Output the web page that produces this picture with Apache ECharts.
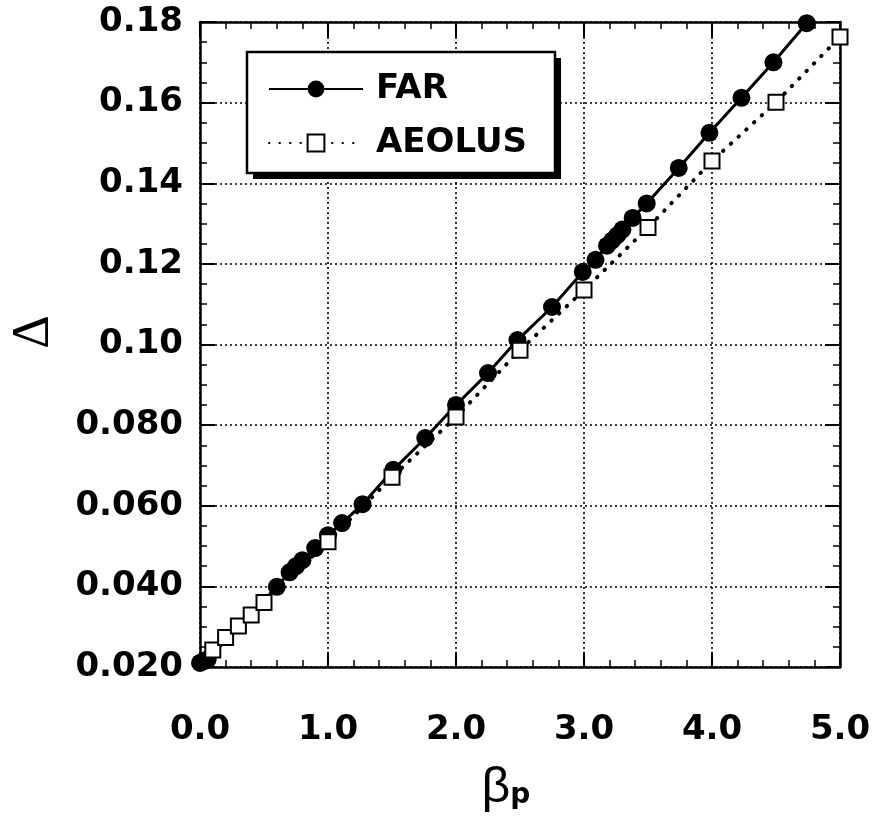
<!DOCTYPE html>
<html>
<head>
<meta charset="utf-8">
<script src="https://cdn.jsdelivr.net/npm/echarts@6/dist/echarts.min.js"></script>
<style>
html,body{margin:0;padding:0;background:#fff;}
#chart{width:879px;height:820px;}
</style>
</head>
<body>
<div id="chart"></div>
<script>
// ---- data ----
var farX = [0, 0.02, 0.04, 0.06, 0.6, 0.7, 0.75, 0.8, 0.9, 1.0, 1.11, 1.27, 1.51, 1.76, 2.0, 2.25, 2.48, 2.75, 2.99, 3.09, 3.18, 3.22, 3.26, 3.3, 3.38, 3.49, 3.74, 3.98, 4.23, 4.48, 4.74];
var farY = [0.0210, 0.0213, 0.0216, 0.0219, 0.0399, 0.0435, 0.0450, 0.0465, 0.0495, 0.0527, 0.0557, 0.0604, 0.0689, 0.0768, 0.0850, 0.0929, 0.1011, 0.1093, 0.1180, 0.1210, 0.1245, 0.1258, 0.1271, 0.1285, 0.1314, 0.1350, 0.1438, 0.1525, 0.1612, 0.1700, 0.1797];
var aeolusX = [0.1, 0.2, 0.3, 0.4, 0.5, 1.0, 1.5, 2.0, 2.5, 3.0, 3.5, 4.0, 4.5, 5.0];
var aeolusY = [0.0242, 0.0273, 0.0302, 0.0329, 0.0360, 0.0511, 0.0671, 0.0820, 0.0986, 0.1135, 0.1290, 0.1455, 0.1601, 0.1763];
var seriesNames = ['FAR', 'AEOLUS'];
var xTickLabels = ['0.0', '1.0', '2.0', '3.0', '4.0', '5.0'];
var yTickLabels = ['0.020', '0.040', '0.060', '0.080', '0.10', '0.12', '0.14', '0.16', '0.18'];
var xName = 'β';
var xSub = 'p';
var yName = 'Δ';

function pairs(xs, ys) { return xs.map(function (x, i) { return [x, ys[i]]; }); }

var chart = echarts.init(document.getElementById('chart'), null, {renderer: 'canvas'});
var labelFont = {fontFamily: 'DejaVu Sans', fontWeight: 'bold', fontSize: 34, color: '#000'};
var axisLine = {show: true, onZero: false, lineStyle: {color: '#000', width: 2.5}};
var tick = {show: true, inside: true, length: 15, lineStyle: {color: '#000', width: 2}};
var minor = {show: true, length: 7, lineStyle: {color: '#000', width: 1.5}};
var grid = {show: true, lineStyle: {color: '#000', width: 1.6, type: [2, 3]}};

var option = {
  animation: false,
  backgroundColor: '#fff',
  grid: {left: 200, right: 39, top: 22, bottom: 153, containLabel: false, outerBoundsMode: 'none'},
  graphic: [
    {type: 'rect', shape: {x: 253, y: 58, width: 308, height: 121}, style: {fill: '#000'}, z: 5},
    {type: 'rect', shape: {x: 247, y: 52, width: 308, height: 121}, style: {fill: '#fff', stroke: '#000', lineWidth: 2.5}, z: 6}
  ],
  legend: {
    data: seriesNames,
    left: 247, top: 52,
    orient: 'vertical',
    padding: [20, 18, 17, 21],
    itemGap: 20,
    itemWidth: 94,
    itemHeight: 21,
    z: 10,
    textStyle: {fontFamily: 'DejaVu Sans', fontWeight: 'bold', fontSize: 34, color: '#000', padding: [0, 0, 0, 8]}
  },
  xAxis: [{
    type: 'value', position: 'bottom', min: 0, max: 5, interval: 1,
    axisLine: axisLine, axisTick: tick, minorTick: Object.assign({splitNumber: 5}, minor),
    splitLine: grid,
    axisLabel: Object.assign({margin: 46, formatter: function (v) { return xTickLabels[Math.round(v)]; }}, labelFont),
    name: '{b|' + xName + '}{s|' + xSub + '}',
    nameLocation: 'middle', nameGap: 96,
    nameTextStyle: {
      padding: [0, 28, 0, 0],
      rich: {
        b: {fontFamily: 'Liberation Sans', fontSize: 50, color: '#000'},
        s: {fontFamily: 'DejaVu Sans', fontWeight: 'bold', fontSize: 28, color: '#000', padding: [16, 0, 0, 0]}
      }
    }
  }, {
    type: 'value', position: 'top', min: 0, max: 5, interval: 1,
    axisLine: axisLine, axisTick: tick, minorTick: Object.assign({splitNumber: 5}, minor),
    splitLine: {show: false}, axisLabel: {show: false}
  }],
  yAxis: [{
    type: 'value', position: 'left', min: 0.02, max: 0.18, interval: 0.02,
    axisLine: axisLine, axisTick: tick, minorTick: Object.assign({splitNumber: 4}, minor),
    splitLine: grid,
    axisLabel: Object.assign({margin: 17, formatter: function (v) { return yTickLabels[Math.round((v - 0.02) / 0.02)]; }}, labelFont),
    name: yName, nameLocation: 'middle', nameRotate: 90, nameGap: 140,
    nameTextStyle: {fontFamily: 'Liberation Serif', fontSize: 52, color: '#000', padding: [0, 0, 0, 25]}
  }, {
    type: 'value', position: 'right', min: 0.02, max: 0.18, interval: 0.02,
    axisLine: axisLine, axisTick: tick, minorTick: Object.assign({splitNumber: 4}, minor),
    splitLine: {show: false}, axisLabel: {show: false}
  }],
  series: [{
    name: seriesNames[0], type: 'line', xAxisIndex: 0, yAxisIndex: 0,
    data: pairs(farX, farY), clip: false,
    symbol: 'circle', symbolSize: 18,
    itemStyle: {color: '#000', borderColor: '#000', borderWidth: 0},
    lineStyle: {color: '#000', width: 3, type: 'solid'},
    z: 2
  }, {
    name: seriesNames[1], type: 'line', xAxisIndex: 0, yAxisIndex: 0,
    data: pairs(aeolusX, aeolusY), clip: false,
    symbol: 'rect', symbolSize: 15,
    itemStyle: {color: '#fff', borderColor: '#000', borderWidth: 2},
    lineStyle: {color: '#000', width: 4, type: [0.5, 10], cap: 'round'},
    z: 3
  }]
};
chart.setOption(option);
</script>
</body>
</html>
